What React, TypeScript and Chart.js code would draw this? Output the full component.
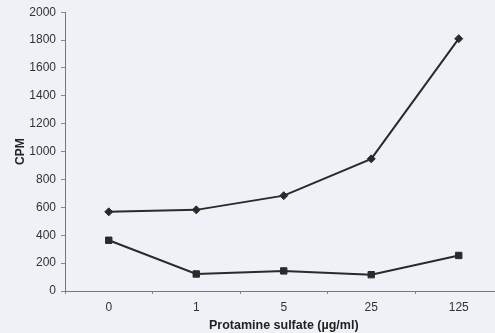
import React, { useEffect, useRef } from "react";
import { Chart, registerables } from "chart.js";

Chart.register(...registerables);

const categories = ["0", "1", "5", "25", "125"];
const diamondSeries = [568, 582, 684, 948, 1810];
const squareSeries = [364, 122, 144, 117, 255];
const yTicks = [0, 200, 400, 600, 800, 1000, 1200, 1400, 1600, 1800, 2000];

export default function App() {
  const ref = useRef<HTMLCanvasElement | null>(null);

  useEffect(() => {
    if (!ref.current) return;
    const font = { family: "'Liberation Sans', Arial, sans-serif", size: 12 };
    const chart = new Chart(ref.current, {
      type: "line",
      data: {
        labels: categories,
        datasets: [
          {
            data: diamondSeries,
            borderColor: "#2a2a2a",
            backgroundColor: "#2a2a2a",
            borderWidth: 2,
            pointStyle: "rectRot",
            pointRadius: 4,
            pointBorderWidth: 1,
            tension: 0,
          },
          {
            data: squareSeries,
            borderColor: "#2a2a2a",
            backgroundColor: "#2a2a2a",
            borderWidth: 2,
            pointStyle: "rect",
            pointRadius: 4.5,
            pointBorderWidth: 1,
            tension: 0,
          },
        ],
      },
      options: {
        responsive: false,
        animation: false,
        layout: { padding: { top: 9, left: 13, right: 0, bottom: 0 } },
        plugins: { legend: { display: false }, tooltip: { enabled: false } },
        scales: {
          x: {
            type: "category",
            offset: true,
            border: { display: true, color: "#777", width: 1 },
            grid: {
              display: true,
              offset: true,
              drawOnChartArea: false,
              drawTicks: true,
              tickLength: 3,
              tickColor: "#888",
            },
            ticks: { color: "#333", font, padding: 6 },
            title: {
              display: true,
              text: "Protamine sulfate (µg/ml)",
              color: "#222",
              font: { ...font, size: 12.5, weight: "bold" },
              padding: { top: 0, bottom: 0 },
            },
            afterFit: (s: any) => {
              s.height = 42;
            },
          },
          y: {
            min: 0,
            max: 2000,
            afterBuildTicks: (s: any) => {
              s.ticks = yTicks.map((v) => ({ value: v }));
            },
            border: { display: true, color: "#777", width: 1 },
            grid: {
              display: true,
              drawOnChartArea: false,
              drawTicks: true,
              tickLength: 4,
              tickColor: "#888",
            },
            ticks: {
              color: "#333",
              font,
              padding: 5,
              callback: (v: any) => String(v),
            },
            title: {
              display: true,
              text: "CPM",
              color: "#222",
              font: { ...font, size: 12, weight: "bold" },
              padding: { top: 0, bottom: 0 },
            },
            afterFit: (s: any) => {
              s.width = 52;
            },
          },
        },
      },
    });
    return () => chart.destroy();
  }, []);

  return (
    <div
      style={{
        position: "fixed",
        left: 0,
        top: 0,
        width: 495,
        height: 333,
        overflow: "hidden",
        background: "#eef1f6",
      }}
    >
      <canvas ref={ref} width={508} height={333} style={{ display: "block" }} />
    </div>
  );
}
